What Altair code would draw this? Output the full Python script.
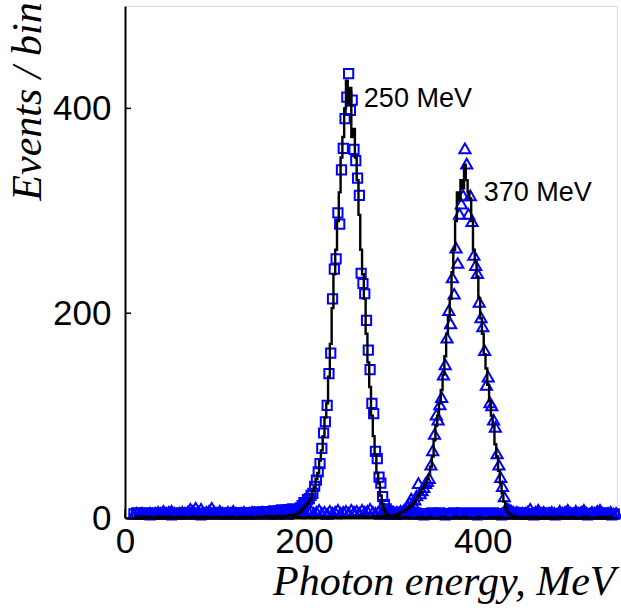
import altair as alt
import pandas as pd

# ---------------- data ----------------
# fine bins (2 MeV) around the peaks
peak_step = 2
blue_base_step = 3
black_base_step = 5

# 250 MeV sample: blue squares (markers) and black histogram
sq_peak_start = 190
sq_peak = [6, 7, 8, 10, 12, 15, 14, 18, 19, 22,
           24, 31, 37, 45, 53, 68, 83, 94, 110, 141,
           161, 214, 243, 253, 298, 287, 340, 361, 390, 411,
           434, 398, 408, 360, 349, 332, 315, 239, 229, 219,
           193, 164, 145, 112, 102, 65, 58, 40, 34, 21,
           13, 9, 7, 6, 5, 4, 5, 4, 5, 4]
sq_left_start = 10
sq_left = [4, 5, 4, 4, 5, 4, 3, 4, 5, 4, 4, 5, 4, 4, 3, 4, 5, 4, 4, 5,
           4, 4, 5, 4, 4, 3, 4, 5, 4, 4, 5, 4, 4, 5, 4, 4, 5, 4, 5, 4,
           4, 5, 5, 4, 5, 5, 6, 5, 6, 5, 6, 6, 7, 6, 7, 8, 7, 8, 8, 9]
sq_right_start = 310
sq_right = [5, 4, 5, 4, 4, 5, 4, 4, 3, 4, 4, 5, 4, 4, 5, 4, 3, 4, 4, 5,
            4, 4, 5, 4, 4, 4, 5, 4, 3, 4, 5, 4, 4, 4, 5, 4, 4, 3, 4, 5,
            4, 4, 5, 4, 4, 5, 4, 4, 4, 3, 4, 5, 4, 4, 5, 4, 4, 3, 4, 4,
            5, 4, 4, 5, 4, 4, 4, 5, 4, 3, 4, 4, 5, 4, 4, 5, 4, 4, 3, 4]

h250_peak_start = 190
h250_peak = [3, 4, 5, 6, 8, 10, 12, 14, 17, 20,
             26, 30, 38, 44, 56, 66, 80, 98, 112, 138,
             170, 205, 238, 262, 290, 318, 352, 372, 400, 427,
             405, 420, 372, 380, 352, 330, 296, 262, 238, 214,
             180, 152, 128, 100, 80, 62, 44, 34, 22, 14,
             8, 5, 3, 2, 1, 1, 1, 0, 1, 0]
h250_left_start = 10
h250_left = [1, 0, 1, 1, 0, 1, 0, 1, 1, 0, 1, 1, 0, 1, 0, 1, 1, 0,
             1, 1, 0, 1, 1, 0, 1, 1, 1, 0, 1, 1, 2, 1, 2, 2, 2, 3]
h250_right_start = 310
h250_right = [0, 1, 0, 0, 1, 0, 1, 0, 0, 1, 0, 0, 1, 0, 1, 0, 0, 1, 0, 0,
              1, 0, 1, 0, 0, 1, 0, 0, 1, 0, 1, 0, 0, 1, 0, 0, 1, 0, 1, 0,
              0, 1, 0, 0, 1, 0, 0, 1]

# 370 MeV sample: blue triangles (markers) and black histogram
tr_peak_start = 300
tr_peak = [5, 4, 6, 5, 7, 6, 8, 9, 12, 15,
           19, 14, 18, 22, 34, 24, 27, 30, 34, 36,
           39, 52, 66, 82, 101, 96, 111, 118, 140, 150,
           176, 203, 190, 235, 219, 264, 249, 297, 307, 315,
           361, 346, 297, 315, 290, 257, 247, 239, 211, 196,
           187, 164, 130, 138, 113, 110, 96, 89, 63, 52,
           40, 31, 21, 10, 9, 8, 7, 6, 5, 6,
           5, 4, 5, 4, 5]
tr_left_start = 10
tr_left = [4, 5, 4, 5, 4, 4, 5, 4, 5, 6, 5, 7, 5, 6, 7, 5, 4, 5, 6, 5,
           6, 9, 7, 10, 6, 9, 5, 6, 7, 10, 6, 5, 7, 5, 4, 6, 5, 7, 5, 4,
           5, 6, 4, 5, 6, 5, 4, 5, 6, 5, 4, 5, 6, 4, 5, 6, 5, 4, 6, 5,
           7, 5, 6, 8, 5, 6, 7, 5, 6, 8, 5, 6, 4, 7, 5, 6, 8, 5, 6, 7,
           5, 8, 6, 7, 5, 8, 6, 7, 9, 6, 5, 6, 4, 5, 6, 5, 4]
tr_right_start = 450
tr_right = [6, 9, 5, 6, 8, 5, 6, 4, 5, 6, 5, 4, 7, 5, 6, 8, 5, 4, 7, 5,
            6, 8, 5, 4, 6, 5, 7, 8, 5, 4, 5, 6, 4, 5]

h370_peak_start = 300
h370_peak = [2, 3, 3, 4, 5, 6, 6, 8, 9, 11,
             12, 14, 16, 18, 22, 24, 28, 30, 33, 38,
             42, 50, 60, 76, 90, 100, 112, 125, 140, 158,
             180, 196, 214, 240, 262, 290, 318, 310, 330, 322,
             345, 330, 318, 312, 290, 262, 250, 236, 215, 195,
             180, 160, 146, 130, 114, 100, 90, 72, 60, 46,
             34, 24, 16, 10, 6, 4, 3, 2, 1, 1,
             1, 0, 1, 0, 0]
h370_left_start = 10
h370_left = [0, 1, 0, 1, 0, 0, 1, 0, 1, 0, 0, 1, 0, 1, 1, 0, 0, 1, 0, 1,
             0, 0, 1, 0, 1, 0, 1, 0, 0, 1, 0, 1, 0, 0, 1, 0, 1, 1, 0, 1,
             0, 1, 1, 0, 1, 1, 0, 1, 1, 1, 1, 2, 1, 1, 2, 1, 2, 2]
h370_right_start = 450
h370_right = [0, 1, 0, 0, 1, 0, 0, 1, 0, 0, 1, 0, 0, 1, 0, 0, 0, 1, 0, 0]

x_ticks = [0, 200, 400]
y_ticks = [0, 200, 400]
label_text = ["250 MeV", "370 MeV"]
label_energy = [267, 401]
label_count = [401, 310]


def rows(start, step, values, series):
    return [{"E": start + i * step, "N": v, "s": series} for i, v in enumerate(values)]


squares = pd.DataFrame(rows(sq_left_start, blue_base_step, sq_left, "250")
                       + rows(sq_peak_start, peak_step, sq_peak, "250")
                       + rows(sq_right_start, blue_base_step, sq_right, "250"))
triangles = pd.DataFrame(rows(tr_left_start, blue_base_step, tr_left, "370")
                         + rows(tr_peak_start, peak_step, tr_peak, "370")
                         + rows(tr_right_start, blue_base_step, tr_right, "370"))
hist = pd.DataFrame(rows(h250_left_start, black_base_step, h250_left, "250")
                    + rows(h250_peak_start, peak_step, h250_peak, "250")
                    + rows(h250_right_start, black_base_step, h250_right, "250")
                    + rows(h370_left_start, black_base_step, h370_left, "370")
                    + rows(h370_peak_start, peak_step, h370_peak, "370")
                    + rows(h370_right_start, black_base_step, h370_right, "370"))
labels = pd.DataFrame({"E": label_energy, "N": label_count, "t": label_text})

W, H = 492, 512

x_axis = alt.Axis(values=x_ticks, format="d", title="Photon energy, MeV",
                  labelFont="Liberation Sans", labelFontSize=35, labelColor="black",
                  labelPadding=6, labelFlush=False, labelOverlap=False,
                  ticks=False, grid=False, domain=True, domainColor="black",
                  domainWidth=2, zindex=1,
                  titleFont="Liberation Serif", titleFontStyle="italic",
                  titleFontWeight="normal", titleFontSize=42, titleColor="black",
                  titleX=490, titleY=76, titleAlign="right", titleBaseline="alphabetic")
y_axis = alt.Axis(values=y_ticks, format="d", title="Events / bin",
                  labelFont="Liberation Sans", labelFontSize=35, labelColor="black",
                  labelPadding=14, labelFlush=False, labelOverlap=False,
                  ticks=False, grid=False, domain=True, domainColor="black",
                  domainWidth=2, zindex=1,
                  titleFont="Liberation Serif", titleFontStyle="italic",
                  titleFontWeight="normal", titleFontSize=42, titleColor="black",
                  titleAngle=270, titleX=-85, titleY=95, titleAlign="center",
                  titleBaseline="alphabetic")

xs = alt.Scale(domain=[0, 550], nice=False, zero=False)
ys = alt.Scale(domain=[0, 500], nice=False)
X = alt.X("E:Q", scale=xs, axis=x_axis)
Y = alt.Y("N:Q", scale=ys, axis=y_axis)

xtick_layer = alt.Chart(pd.DataFrame({"E": x_ticks})).mark_rule(
    color="black", strokeWidth=1.5).encode(x=X, y=alt.value(H), y2=alt.value(H - 9))
ytick_layer = alt.Chart(pd.DataFrame({"N": y_ticks})).mark_rule(
    color="black", strokeWidth=1.5).encode(y=Y, x=alt.value(0), x2=alt.value(6))

sq_layer = alt.Chart(squares).mark_point(
    shape="square", filled=False, color="#0000ff", size=85, strokeWidth=2, opacity=1
).encode(x=X, y=Y)
tr_layer = alt.Chart(triangles).mark_point(
    shape="triangle-up", filled=False, color="#0000ff", size=125, strokeWidth=2, opacity=1
).encode(x=X, y=Y)
line_layer = alt.Chart(hist).mark_line(
    interpolate="step", color="black", strokeWidth=2.4
).encode(x=X, y=Y, detail="s:N")
text_layer = alt.Chart(labels).mark_text(
    align="left", baseline="alphabetic", font="Liberation Sans", fontSize=27, color="black"
).encode(x=X, y=Y, text="t:N")

chart = alt.layer(xtick_layer, ytick_layer, sq_layer, tr_layer, line_layer, text_layer).properties(
    width=W, height=H,
    autosize=alt.AutoSizeParams(type="none"),
    padding={"left": 125, "top": 6, "right": 4, "bottom": 93},
).configure_view(stroke="black", strokeWidth=2).configure(background="white")

chart.save("out.html", embed_options={"renderer": "svg", "actions": False})
